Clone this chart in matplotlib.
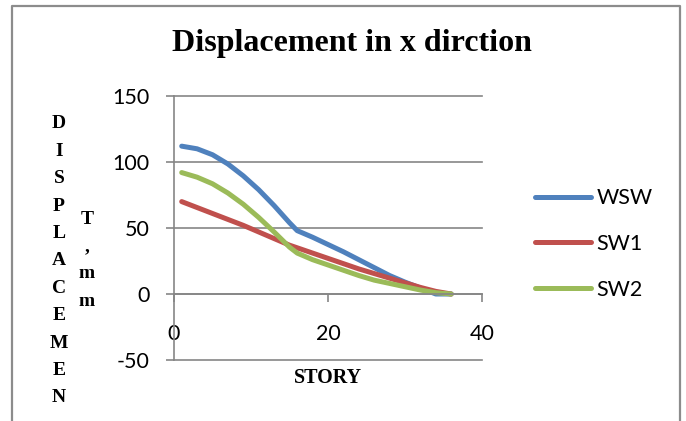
import matplotlib.pyplot as plt

plt.rcParams['axes.unicode_minus'] = False

# displacement per story (mm)
story = [1, 3, 5, 7, 9, 11, 13, 15, 16, 18, 20, 22, 24, 26, 28, 30, 32, 34, 36]
wsw = [112, 110, 105.5, 98.5, 89.5, 79, 67, 54, 48, 43, 37.5, 32, 26, 20, 14, 9, 4.5, 0, 0]
sw1 = [70, 65.5, 61, 56.5, 52, 47, 42, 37, 35, 31, 27, 23, 19, 15.5, 12, 8.5, 5, 2, 0]
sw2 = [92, 88.5, 83.5, 76.5, 68, 58, 47, 35.5, 31, 26, 22, 18, 14, 10.5, 8, 5.5, 3, 1, 0]
series = [('WSW', wsw, '#4F81BD'), ('SW1', sw1, '#C0504D'), ('SW2', sw2, '#9BBB59')]
yticks = [-50, 0, 50, 100, 150]
xticks = [0, 20, 40]

W, H = 686, 421
fig = plt.figure(figsize=(W / 100, H / 100), dpi=100)
ax = fig.add_axes([174 / W, 1 - 360 / H, (482 - 174) / W, (360 - 96) / H])

grey = '#868686'
ax.set_xlim(0, 40)
ax.set_ylim(-50, 150)

# horizontal gridlines, including the one on the bottom edge
for yv in yticks:
    ax.axhline(yv, color=grey, lw=1.2, clip_on=False, zorder=1)
for name, vals, col in series:
    ax.plot(story, vals, color=col, lw=3.6, solid_capstyle='round', solid_joinstyle='round', label=name)

ax.set_xticks(xticks)
ax.set_yticks(yticks)
for s in ['top', 'right']:
    ax.spines[s].set_visible(False)
ax.spines['bottom'].set_position(('data', 0))
for s in ['left', 'bottom']:
    ax.spines[s].set_color(grey)
    ax.spines[s].set_linewidth(1.2)
ax.tick_params(axis='both', direction='out', length=5.5, width=1.2, color=grey,
               labelsize=15.5, labelfontfamily='Lato')
ax.tick_params(axis='y', pad=12)
ax.tick_params(axis='x', pad=16)

# chart title and axis labels
fig.text(352 / W, 1 - 51 / H, 'Displacement in x dirction', ha='center', va='baseline',
         fontsize=23, fontweight='bold', family='Liberation Serif')
fig.text(328 / W, 1 - 383 / H, 'STORY', ha='center', va='baseline',
         fontsize=14.5, fontweight='bold', family='Liberation Serif')
for i, ch in enumerate('DISPLACEMEN'):
    fig.text(59 / W, 1 - (128.4 + 27.4 * i) / H, ch, ha='center', va='baseline',
             fontsize=14, fontweight='bold', family='Liberation Serif')
for i, ch in enumerate('T,mm'):
    fig.text(87 / W, 1 - (223.7 + 27.4 * i) / H, ch, ha='center', va='baseline',
             fontsize=14, fontweight='bold', family='Liberation Serif')

fig.legend(loc='center left', bbox_to_anchor=(535 / W, 1 - 244 / H), frameon=False,
           borderpad=0, borderaxespad=0, handlelength=2.6, handletextpad=0.25,
           labelspacing=1.2, prop={'family': 'Lato', 'size': 15.5})

# outer frame
fig.add_artist(plt.Line2D([12 / W, 12 / W, 680 / W, 680 / W], [0, 1 - 5.5 / H, 1 - 5.5 / H, 0],
                          transform=fig.transFigure, color='#8c8c8c', lw=1.6))

fig.savefig('out.png', dpi=100)
